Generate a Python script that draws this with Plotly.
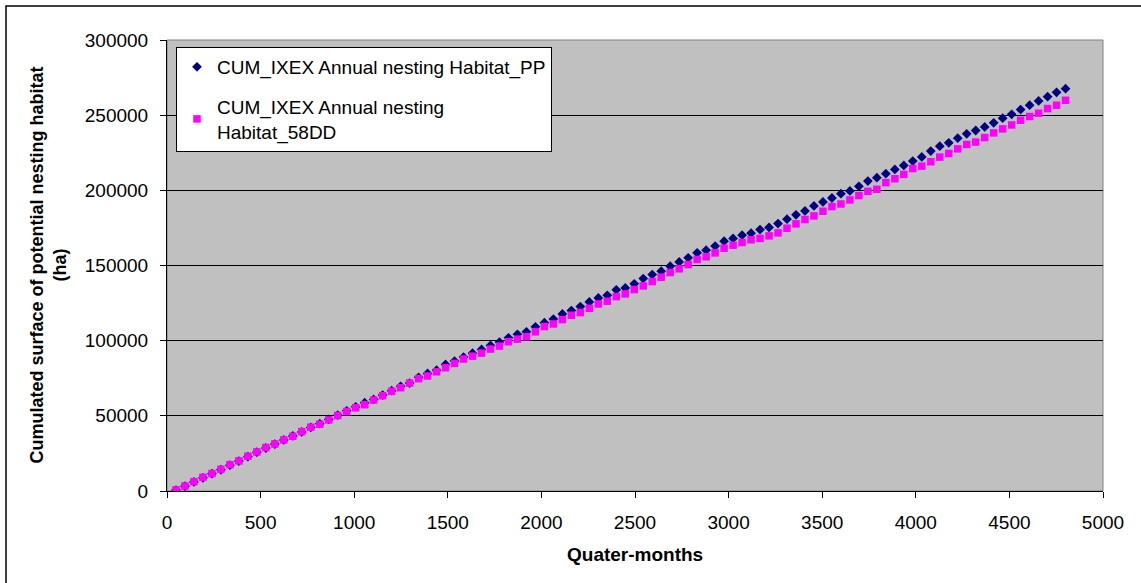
import plotly.graph_objects as go

# Quarter-month index (x) for each point
quarter_months = [
    48, 96, 144, 192, 240, 288, 336, 384, 432, 480,
    528, 576, 624, 672, 720, 768, 816, 864, 912, 960,
    1008, 1056, 1104, 1152, 1200, 1248, 1296, 1344, 1392, 1440,
    1488, 1536, 1584, 1632, 1680, 1728, 1776, 1824, 1872, 1920,
    1968, 2016, 2064, 2112, 2160, 2208, 2256, 2304, 2352, 2400,
    2448, 2496, 2544, 2592, 2640, 2688, 2736, 2784, 2832, 2880,
    2928, 2976, 3024, 3072, 3120, 3168, 3216, 3264, 3312, 3360,
    3408, 3456, 3504, 3552, 3600, 3648, 3696, 3744, 3792, 3840,
    3888, 3936, 3984, 4032, 4080, 4128, 4176, 4224, 4272, 4320,
    4368, 4416, 4464, 4512, 4560, 4608, 4656, 4704, 4752, 4800,
]

cum_pp = [
    600, 3200, 6000, 8800, 11500, 14200, 17200, 19900, 22800, 25800,
    28600, 31200, 34000, 36600, 39300, 42300, 44800, 47600, 50400, 53300,
    56000, 58700, 60900, 63800, 66700, 69600, 71800, 75600, 78200, 80400,
    84200, 86400, 89100, 91700, 94200, 96800, 99100, 101900, 104200, 105900,
    109200, 112000, 114400, 117800, 120000, 122700, 125800, 128400, 130200, 133800,
    135100, 137800, 141300, 144000, 146200, 149500, 152400, 155100, 158400, 160200,
    162900, 166200, 168000, 170200, 171500, 173900, 175300, 177900, 180800, 183700,
    186300, 189600, 192300, 194900, 197800, 199600, 202700, 206200, 208400, 211100,
    213900, 216600, 219500, 222200, 226100, 229400, 231600, 234700, 237600, 239800,
    242200, 244900, 248000, 250600, 253700, 256600, 259500, 262300, 265200, 267600,
]

cum_58dd = [
    700, 3300, 6200, 9100, 11600, 14400, 17500, 20000, 23100, 26000,
    28900, 31300, 34000, 36400, 39500, 42400, 44400, 47300, 50200, 52900,
    55400, 57400, 60500, 63400, 66300, 68700, 71800, 74700, 76500, 79300,
    82000, 84900, 87800, 89700, 91700, 94400, 96400, 99300, 101000, 102600,
    105900, 109400, 111100, 114000, 116900, 118700, 121500, 124400, 126200, 129300,
    131100, 134000, 136400, 139300, 142200, 145300, 147800, 150600, 154000, 155800,
    158400, 161500, 163500, 165300, 167100, 168000, 169700, 171700, 174800, 177700,
    180600, 183000, 186100, 189200, 190900, 193600, 196500, 199300, 200700, 205100,
    207700, 210600, 214500, 216100, 219000, 222100, 224500, 227600, 230500, 232100,
    235100, 238200, 240900, 243500, 246600, 249100, 251300, 254400, 256600, 259900,
]

x_ticks = [0, 500, 1000, 1500, 2000, 2500, 3000, 3500, 4000, 4500, 5000]
y_ticks = [0, 50000, 100000, 150000, 200000, 250000, 300000]

FONT = "Liberation Sans, Arial, sans-serif"

fig = go.Figure()
fig.add_trace(go.Scatter(
    x=quarter_months, y=cum_pp, mode="markers",
    name="CUM_IXEX Annual nesting Habitat_PP", legendgroup="pp",
    marker=dict(symbol="diamond", size=7.5, color="#000080", line=dict(width=0)),
))
fig.add_trace(go.Scatter(
    x=quarter_months, y=cum_58dd, mode="markers",
    name="CUM_IXEX Annual nesting<br>Habitat_58DD", legendgroup="dd",
    marker=dict(symbol="square", size=7.5, color="#FF00FF", line=dict(width=0)),
))

L, R, T, B = 167, 1103, 40, 491
W, H = 1141, 583
pw, ph = R - L, B - T

fig.update_layout(
    width=W, height=H, autosize=False,
    margin=dict(l=L, r=W - R, t=T, b=H - B, pad=0),
    paper_bgcolor="white", plot_bgcolor="#C0C0C0",
    font=dict(family=FONT, size=19, color="black"),
    showlegend=True,
    legend=dict(
        x=(176 - L) / pw, y=(B - 47) / ph, xanchor="left", yanchor="top",
        bgcolor="white", bordercolor="black", borderwidth=1,
        font=dict(family=FONT, size=19, color="black"),
        tracegroupgap=12,
    ),
    xaxis=dict(
        range=[0, 5000], tickvals=x_ticks, ticktext=[str(v) for v in x_ticks],
        showgrid=False, zeroline=False,
        showline=True, linecolor="black", linewidth=1, mirror=False,
        ticks="outside", ticklen=6, tickcolor="black", tickwidth=1,
        ticklabelstandoff=8,
        tickfont=dict(family=FONT, size=19, color="black"),
    ),
    yaxis=dict(
        range=[0, 300000], tickvals=y_ticks, ticktext=[str(v) for v in y_ticks],
        showgrid=True, gridcolor="black", gridwidth=1, zeroline=False,
        showline=True, linecolor="black", linewidth=1,
        ticks="outside", ticklen=6, tickcolor="black", tickwidth=1,
        ticklabelstandoff=8,
        tickfont=dict(family=FONT, size=19, color="black"),
    ),
)

# plot-area frame (gray on top/right)
fig.add_shape(type="rect", xref="paper", yref="paper", x0=0, x1=1, y0=0, y1=1,
              line=dict(color="#808080", width=1), layer="below")
# outer chart border (left and top visible)
fig.add_shape(type="rect", xref="paper", yref="paper",
              x0=(6 - L) / pw, x1=(W + 10 - L) / pw,
              y0=(B - (H + 10)) / ph, y1=(B - 6) / ph,
              line=dict(color="black", width=1.5))

fig.add_annotation(
    text="<b>Cumulated surface of potential nesting habitat<br>(ha)</b>",
    xref="paper", yref="paper", x=(48 - L) / pw, y=0.5,
    xanchor="center", yanchor="middle", textangle=-90, showarrow=False,
    font=dict(family=FONT, size=18, color="black"),
)
fig.add_annotation(
    text="<b>Quater-months</b>",
    xref="paper", yref="paper", x=0.5, y=(B - 554) / ph,
    xanchor="center", yanchor="middle", showarrow=False,
    font=dict(family=FONT, size=19, color="black"),
)

fig.write_html("out.html",
               config={"displayModeBar": False},
               post_script="document.body.style.margin='0px';document.body.style.overflow='hidden';")
